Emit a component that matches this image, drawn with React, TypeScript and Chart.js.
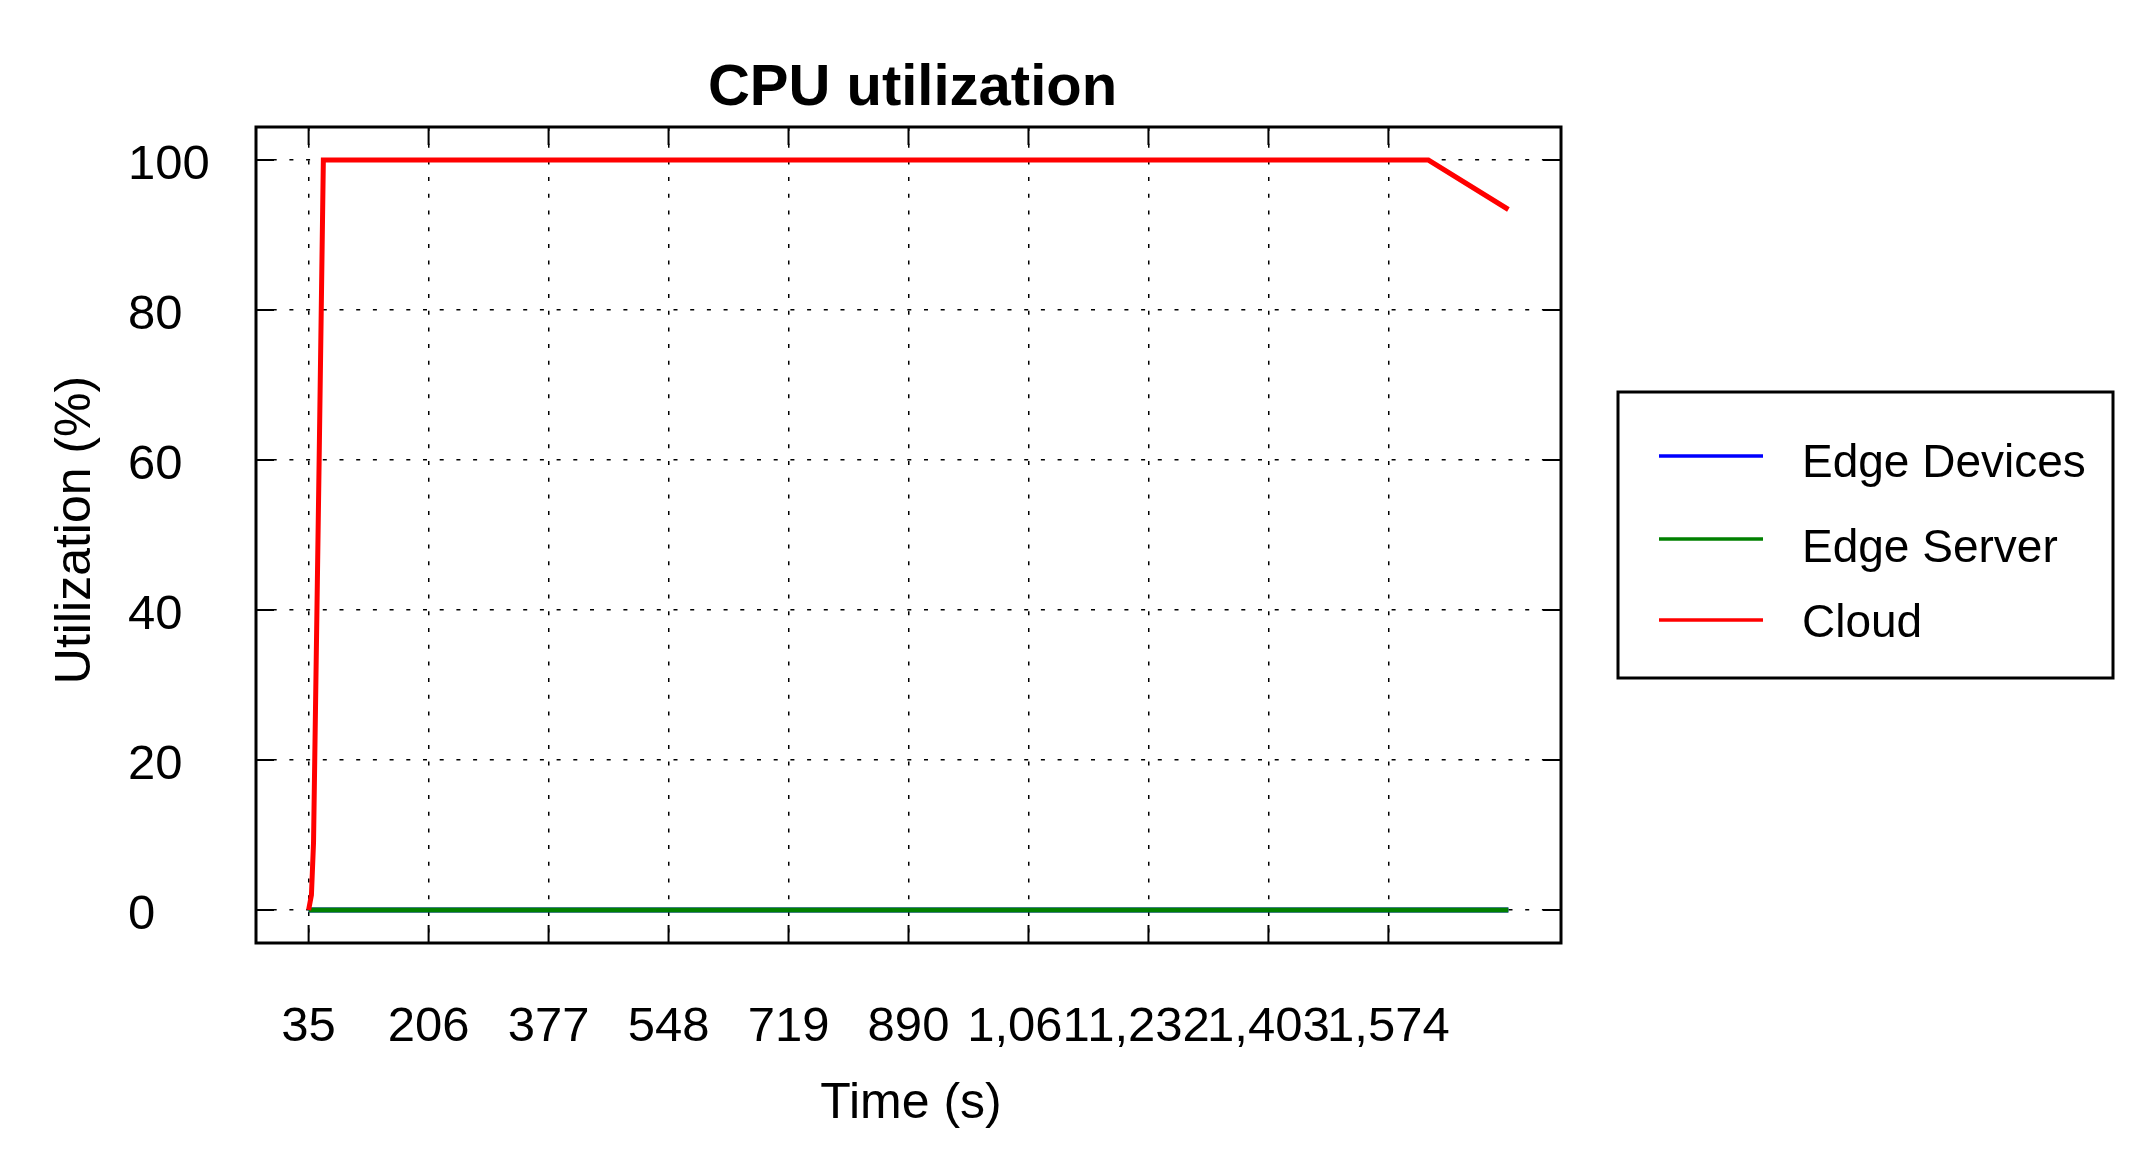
import React, { useEffect, useRef } from 'react';
import { Chart, registerables } from 'chart.js';

Chart.register(...registerables);

// ---- data ----
const xTickValues = [35, 206, 377, 548, 719, 890, 1061, 1232, 1403, 1574];
const xTickLabels = ['35', '206', '377', '548', '719', '890', '1,061', '1,232', '1,403', '1,574'];
const yTickValues = [0, 20, 40, 60, 80, 100];
const yTickLabels = ['0', '20', '40', '60', '80', '100'];

const seriesNames = ['Edge Devices', 'Edge Server', 'Cloud'];
const seriesColors = ['#0000ff', '#008000', '#ff0000'];

const edgeDeviceTime = [35, 1745];
const edgeDeviceUtil = [0, 0];
const edgeServerTime = [35, 1745];
const edgeServerUtil = [0, 0];
const cloudTime = [35, 39, 42, 50, 56, 1631, 1745];
const cloudUtil = [0, 2, 9, 60, 100, 100, 93.4];

const chartTitle = 'CPU utilization';
const xTitle = 'Time (s)';
const yTitle = 'Utilization (%)';

// ---- layout ----
const W = 2137;
const H = 1170;
const X_MIN = -40;
const X_MAX = 1820;
const Y_MIN = -4.4;
const Y_MAX = 104.4;
const FONT = '"Liberation Sans", Arial, Helvetica, sans-serif';

const toPoints = (xs: number[], ys: number[]) => xs.map((x, i) => ({ x, y: ys[i] }));

const framePlugin = {
  id: 'framePlugin',
  afterDraw(chart: any) {
    const { ctx, chartArea } = chart;
    const { left, right, top, bottom } = chartArea;
    const xs = chart.scales.x;
    const ys = chart.scales.y;
    ctx.save();
    // inward tick marks
    ctx.strokeStyle = '#000';
    ctx.lineWidth = 2;
    const tl = 18;
    ctx.beginPath();
    xTickValues.forEach((v) => {
      const px = xs.getPixelForValue(v);
      ctx.moveTo(px, bottom);
      ctx.lineTo(px, bottom - tl);
      ctx.moveTo(px, top);
      ctx.lineTo(px, top + tl);
    });
    yTickValues.forEach((v) => {
      const py = ys.getPixelForValue(v);
      ctx.moveTo(left, py);
      ctx.lineTo(left + tl, py);
      ctx.moveTo(right, py);
      ctx.lineTo(right - tl, py);
    });
    ctx.stroke();
    // box
    ctx.lineWidth = 3;
    ctx.strokeRect(left, top, right - left, bottom - top);

    // titles
    ctx.fillStyle = '#000';
    ctx.textBaseline = 'alphabetic';
    ctx.textAlign = 'center';
    ctx.font = `bold 58px ${FONT}`;
    ctx.fillText(chartTitle, (left + right) / 2 + 4, 105);
    ctx.font = `50px ${FONT}`;
    ctx.fillText(xTitle, 911, 1118);
    ctx.save();
    ctx.translate(90, 530);
    ctx.rotate(-Math.PI / 2);
    ctx.fillText(yTitle, 0, 0);
    ctx.restore();

    // legend
    const bx = 1618, by = 392, bw = 495, bh = 286;
    ctx.lineWidth = 3;
    ctx.strokeRect(bx, by, bw, bh);
    const lineY = [456, 539, 620];
    const textY = [477, 562, 637];
    ctx.font = `46px ${FONT}`;
    ctx.textAlign = 'left';
    seriesNames.forEach((name, i) => {
      ctx.strokeStyle = seriesColors[i];
      ctx.lineWidth = 3.5;
      ctx.beginPath();
      ctx.moveTo(1659, lineY[i]);
      ctx.lineTo(1763, lineY[i]);
      ctx.stroke();
      ctx.fillStyle = '#000';
      ctx.fillText(name, 1802, textY[i]);
    });
    ctx.restore();
  },
};

export default function App() {
  const ref = useRef<HTMLCanvasElement>(null);
  useEffect(() => {
    if (!ref.current) return;
    const seriesData = [
      toPoints(edgeDeviceTime, edgeDeviceUtil),
      toPoints(edgeServerTime, edgeServerUtil),
      toPoints(cloudTime, cloudUtil),
    ];
    const chart = new Chart(ref.current, {
      type: 'line',
      data: {
        datasets: seriesNames.map((name, i) => ({
          label: name,
          data: seriesData[i],
          borderColor: seriesColors[i],
          backgroundColor: seriesColors[i],
          borderWidth: 5,
          pointRadius: 0,
          tension: 0,
          fill: false,
          order: 3 - i,
        })),
      },
      options: {
        animation: false,
        responsive: false,
        devicePixelRatio: 1,
        layout: { padding: { left: 128, top: 127, right: W - 1561, bottom: 0 } },
        plugins: {
          legend: { display: false },
          title: { display: false },
          tooltip: { enabled: false },
        },
        scales: {
          x: {
            type: 'linear',
            min: X_MIN,
            max: X_MAX,
            afterBuildTicks: (s: any) => {
              s.ticks = xTickValues.map((v) => ({ value: v }));
            },
            afterFit: (s: any) => {
              s.height = H - 943;
            },
            ticks: {
              autoSkip: false,
              maxRotation: 0,
              minRotation: 0,
              padding: 55,
              color: '#000',
              font: { family: FONT, size: 49, lineHeight: 1.2 },
              callback: (v: any) => {
                const i = xTickValues.indexOf(Number(v));
                return i >= 0 ? xTickLabels[i] : '';
              },
            },
            grid: { color: '#000', lineWidth: 1.5, drawTicks: false },
            border: { display: false, dash: [4, 12.7] },
          },
          y: {
            type: 'linear',
            min: Y_MIN,
            max: Y_MAX,
            afterBuildTicks: (s: any) => {
              s.ticks = yTickValues.map((v) => ({ value: v }));
            },
            afterFit: (s: any) => {
              s.width = 128;
            },
            ticks: {
              crossAlign: 'far',
              padding: 0,
              labelOffset: 5,
              color: '#000',
              font: { family: FONT, size: 49, lineHeight: 1.2 },
              callback: (v: any) => {
                const i = yTickValues.indexOf(Number(v));
                return i >= 0 ? yTickLabels[i] : '';
              },
            },
            grid: { color: '#000', lineWidth: 1.5, drawTicks: false },
            border: { display: false, dash: [4, 12.7] },
          },
        },
      },
      plugins: [framePlugin],
    } as any);
    return () => chart.destroy();
  }, []);
  return (
    <div style={{ position: 'fixed', left: 0, top: 0, width: W, height: H, background: '#fff' }}>
      <canvas ref={ref} width={W} height={H} style={{ display: 'block' }} />
    </div>
  );
}
